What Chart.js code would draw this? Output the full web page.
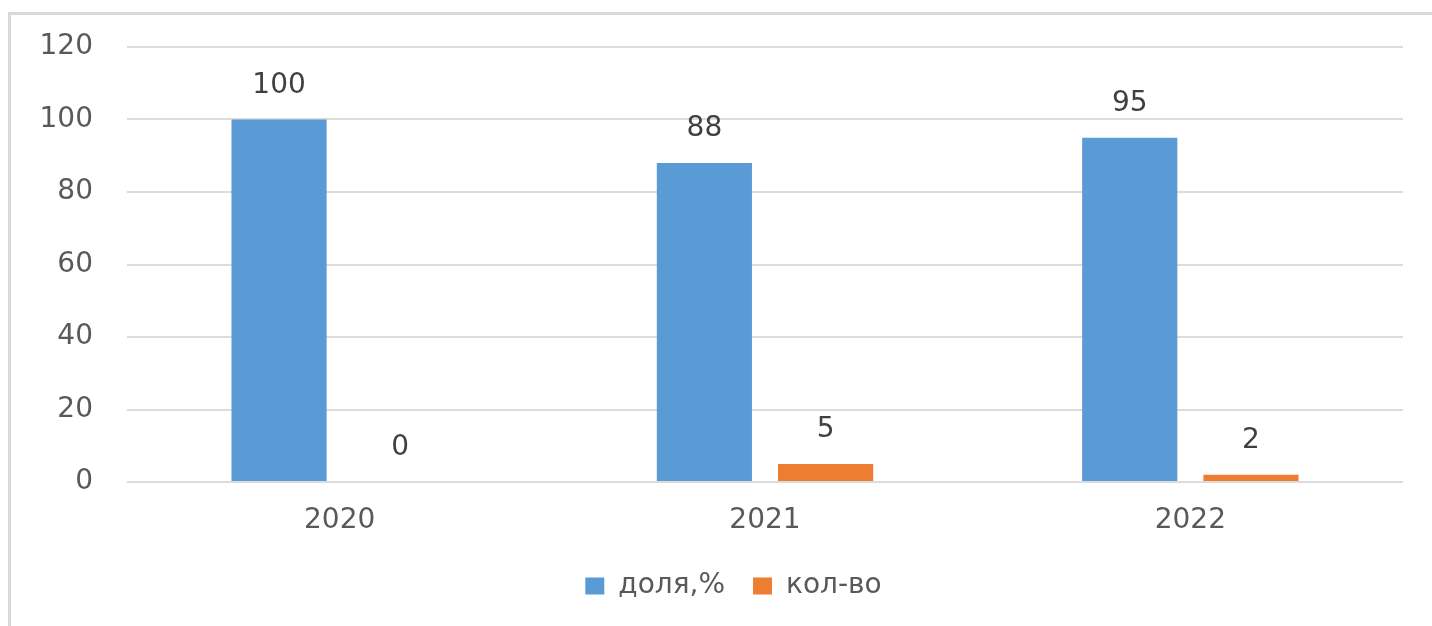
<!DOCTYPE html>
<html>
<head>
<meta charset="utf-8">
<script src="https://cdn.jsdelivr.net/npm/chart.js@4"></script>
<style>
  html, body { margin: 0; padding: 0; background: #fff; overflow: hidden; }
  .frame { position: absolute; left: 8px; top: 12px; width: 1440px; height: 640px;
           border-left: 3px solid #d9d9d9; border-top: 3px solid #d9d9d9; }
  .wrap { position: absolute; left: 0; top: 0; width: 1432px; height: 626px; }
</style>
</head>
<body>
<div class="frame"></div>
<div class="wrap"><canvas id="chart"></canvas></div>
<script>
const years = ["2020", "2021", "2022"]
const shareValues = [100, 88, 95]
const countValues = [0, 5, 2]
const seriesNames = ["доля,%", "кол-во"]

const FONT = '"DejaVu Sans", sans-serif'

// value labels above each bar
const valueLabels = {
  id: 'valueLabels',
  afterDatasetsDraw(chart) {
    const { ctx } = chart
    ctx.save()
    ctx.font = '28px ' + FONT
    ctx.fillStyle = '#404040'
    ctx.textAlign = 'center'
    ctx.textBaseline = 'middle'
    chart.data.datasets.forEach((ds, i) => {
      chart.getDatasetMeta(i).data.forEach((bar, j) => {
        ctx.fillText(String(ds.data[j]), bar.x, bar.y - 34)
      })
    })
    ctx.restore()
  }
}

// nudge the legend a little right, like the original
const legendShift = {
  id: 'legendShift',
  afterLayout(chart) {
    chart.legend.left += 32
    chart.legend.right += 32
  }
}

new Chart(document.getElementById('chart'), {
  type: 'bar',
  data: {
    labels: years,
    datasets: [
      { label: seriesNames[0], data: shareValues, backgroundColor: '#5b9bd5' },
      { label: seriesNames[1], data: countValues, backgroundColor: '#ed7d31' }
    ]
  },
  options: {
    responsive: true,
    maintainAspectRatio: false,
    animation: false,
    categoryPercentage: 0.57,
    barPercentage: 0.785,
    layout: { padding: { left: 0, right: 29, top: 47, bottom: 16 } },
    plugins: {
      tooltip: { enabled: false },
      legend: {
        position: 'bottom',
        labels: {
          font: { family: FONT, size: 28 },
          color: '#595959',
          boxWidth: 19,
          boxHeight: 17,
          padding: 28
        }
      }
    },
    scales: {
      x: {
        grid: { display: false },
        border: { display: false },
        ticks: { font: { family: FONT, size: 28 }, color: '#595959', padding: 14 },
        afterFit(axis) { axis.height = 62 }
      },
      y: {
        min: 0,
        max: 120,
        grid: { color: '#dcdcdc', lineWidth: 2, drawTicks: false },
        border: { display: false },
        ticks: { stepSize: 20, font: { family: FONT, size: 28 }, color: '#595959', padding: 34 },
        afterFit(axis) {
          axis.width = 127
          // tick padding should not push the plot down
          axis.paddingTop = 0
          axis.paddingBottom = 0
        }
      }
    }
  },
  plugins: [valueLabels, legendShift]
})
</script>
</body>
</html>
